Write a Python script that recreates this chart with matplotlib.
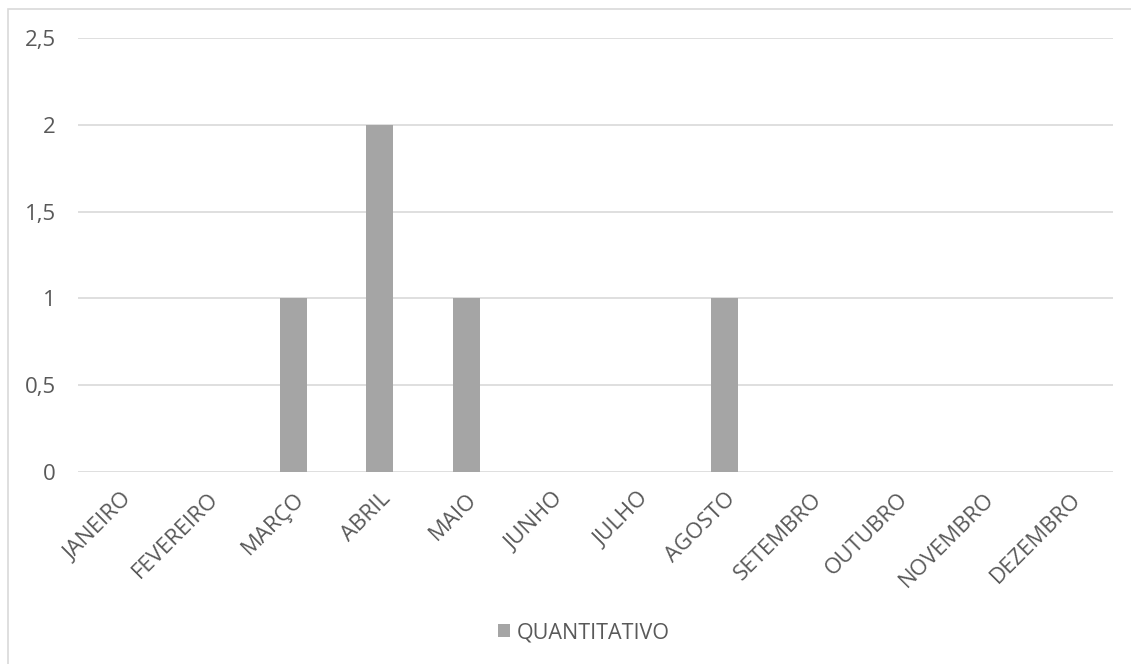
import matplotlib.pyplot as plt
from matplotlib.patches import Rectangle
from matplotlib.ticker import FuncFormatter

months = ['JANEIRO', 'FEVEREIRO', 'MARÇO', 'ABRIL', 'MAIO', 'JUNHO',
          'JULHO', 'AGOSTO', 'SETEMBRO', 'OUTUBRO', 'NOVEMBRO', 'DEZEMBRO']
quantitativo = [0, 0, 1, 2, 1, 0, 0, 1, 0, 0, 0, 0]
yticks = [0, 0.5, 1, 1.5, 2, 2.5]

plt.rcParams['font.family'] = ['Open Sans', 'DejaVu Sans']
text_color = '#595959'
bar_color = '#A5A5A5'
grid_color = '#D9D9D9'
fs = 16

W, H = 1131, 664
fig = plt.figure(figsize=(W / 100, H / 100), dpi=100)

# chart area border (only left/top visible in the original)
fig.patches.append(Rectangle((8 / W, -0.05), 1.2, (H - 9) / H + 0.05,
                             transform=fig.transFigure, fill=False,
                             edgecolor=grid_color, linewidth=1.2))

# plot area in pixels: x 78..1113, y 38..472
ax = fig.add_axes([78 / W, 1 - 472 / H, (1113 - 78) / W, (472 - 38) / H])

x = range(len(months))
ax.bar(x, quantitativo, width=0.313, color=bar_color, label='QUANTITATIVO', zorder=3)

ax.set_xlim(-0.5, len(months) - 0.5)
ax.set_ylim(0, 2.5)
ax.set_yticks(yticks)
ax.yaxis.set_major_formatter(FuncFormatter(lambda v, p: ('%g' % v).replace('.', ',')))
ax.grid(axis='y', color=grid_color, linewidth=1.2, zorder=0)
ax.set_axisbelow(True)
for s in ax.spines.values():
    s.set_visible(False)
ax.tick_params(axis='both', length=0, colors=text_color, labelsize=fs)
ax.tick_params(axis='y', pad=16)
ax.set_xticks(list(x))
ax.set_xticklabels(months, rotation=45, ha='right', rotation_mode='anchor')
ax.tick_params(axis='x', pad=12)

fig.legend(loc='center', bbox_to_anchor=(584 / W, 1 - 633 / H), frameon=False,
           fontsize=15.5, labelcolor=text_color, handlelength=0.55, handleheight=0.55,
           handletextpad=0.3)

fig.savefig('out.png', dpi=100, facecolor='white')
